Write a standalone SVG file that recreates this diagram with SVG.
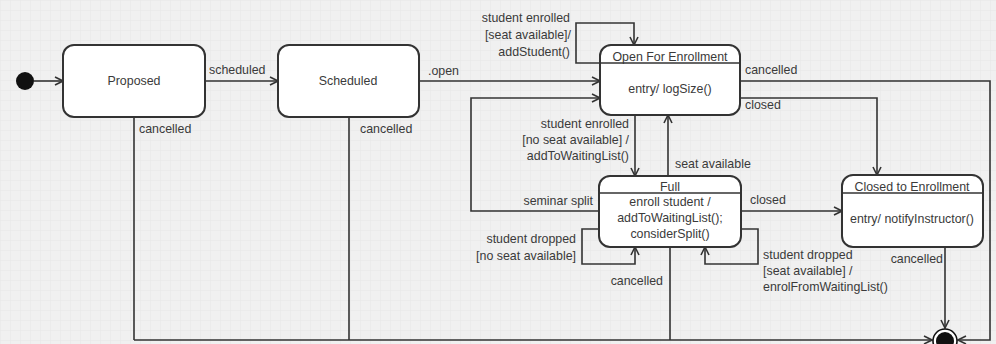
<svg xmlns="http://www.w3.org/2000/svg" width="996" height="344" viewBox="0 0 996 344">
  <defs>
    <pattern id="grid" width="10" height="10" patternUnits="userSpaceOnUse">
      <rect width="10" height="10" fill="#f0f0f0"/>
      <path d="M10,0 L0,0 L0,10" fill="none" stroke="#e7e7e7" stroke-width="1"/>
    </pattern>
    <marker id="arrow" viewBox="0 0 10 10" markerWidth="10" markerHeight="10" refX="9" refY="5" orient="auto" markerUnits="userSpaceOnUse">
      <path d="M1,1 L9,5 L1,9" fill="none" stroke="#333" stroke-width="1.6"/>
    </marker>
  </defs>
  <style>
    .state { fill: #ffffff; stroke: #333; stroke-width: 2; }
    .sep { stroke: #333; stroke-width: 1.6; }
    .edge { fill: none; stroke: #333; stroke-width: 1.6; }
    .arr { marker-end: url(#arrow); }
    text { font-family: "Liberation Sans", Arial, sans-serif; font-size: 12.4px; fill: #3a3a3a; }
    .c { text-anchor: middle; }
    .e { text-anchor: end; }
  </style>

  <rect width="996" height="344" fill="url(#grid)"/>

  <!-- transitions -->
  <g id="connectors">
    <path class="edge arr" d="M34,81 L63,81"/>
    <path class="edge arr" d="M205,81 L278,81"/>
    <path class="edge arr" d="M419,81 L600,81"/>
    <!-- self loop on Open For Enrollment -->
    <path class="edge arr" d="M600,63 L576,63 L576,23 L634,23 L634,45"/>
    <!-- Open -> Full / Full -> Open -->
    <path class="edge arr" d="M635,115 L635,176"/>
    <path class="edge arr" d="M668,176 L668,115"/>
    <!-- seminar split -->
    <path class="edge arr" d="M599,211 L471,211 L471,98 L600,98"/>
    <!-- Open closed -->
    <path class="edge arr" d="M740,98 L877,98 L877,175"/>
    <!-- Open cancelled -->
    <path class="edge arr" d="M740,81 L990,81 L990,340 L958,340"/>
    <!-- Full closed -->
    <path class="edge arr" d="M741,211 L842,211"/>
    <!-- Full self loops -->
    <path class="edge arr" d="M599,229 L582,229 L582,264 L635,264 L635,247"/>
    <path class="edge arr" d="M741,229 L758,229 L758,264 L705,264 L705,247"/>
    <!-- cancelled to final -->
    <path class="edge" d="M134,117 L134,340"/>
    <path class="edge" d="M349,117 L349,340"/>
    <path class="edge" d="M670,247 L670,340"/>
    <path class="edge arr" d="M134,340 L932,340"/>
    <path class="edge arr" d="M945,247 L945,328"/>
  </g>

  <g id="labels">
    <text x="209" y="74">scheduled</text>
    <text x="428" y="75">.open</text>
    <text x="139" y="133">cancelled</text>
    <text x="360" y="133">cancelled</text>
    <text class="e" x="570" y="22">student enrolled</text>
    <text class="e" x="571" y="39">[seat available]/</text>
    <text class="e" x="570" y="56">addStudent()</text>
    <text x="745" y="74">cancelled</text>
    <text x="745" y="109">closed</text>
    <text class="e" x="629" y="128">student enrolled</text>
    <text class="e" x="629" y="144">[no seat available] /</text>
    <text class="e" x="629" y="160">addToWaitingList()</text>
    <text x="675" y="168">seat available</text>
    <text class="e" x="593" y="205">seminar split</text>
    <text x="750" y="204">closed</text>
    <text class="e" x="576" y="243">student dropped</text>
    <text class="e" x="576" y="260">[no seat available]</text>
    <text class="e" x="663" y="285">cancelled</text>
    <text x="763" y="259">student dropped</text>
    <text x="763" y="275">[seat available] /</text>
    <text x="763" y="291">enrolFromWaitingList()</text>
    <text class="e" x="943" y="263">cancelled</text>
  </g>

  <g id="initial">
    <circle cx="25" cy="81" r="9" fill="#111"/>
  </g>

  <g id="proposed">
    <rect class="state" x="63" y="45" width="142" height="72" rx="11"/>
    <text class="c" x="134" y="85">Proposed</text>
  </g>

  <g id="scheduled">
    <rect class="state" x="278" y="45" width="141" height="72" rx="11"/>
    <text class="c" x="348" y="85">Scheduled</text>
  </g>

  <g id="open-for-enrollment">
    <rect class="state" x="600" y="45" width="140" height="70" rx="11"/>
    <line class="sep" x1="600" y1="63" x2="740" y2="63"/>
    <text class="c" x="670" y="61">Open For Enrollment</text>
    <text class="c" x="670" y="93">entry/ logSize()</text>
  </g>

  <g id="full">
    <rect class="state" x="599" y="176" width="142" height="71" rx="11"/>
    <line class="sep" x1="599" y1="193" x2="741" y2="193"/>
    <text class="c" x="670" y="191">Full</text>
    <text class="c" x="670" y="206">enroll student /</text>
    <text class="c" x="670" y="222">addToWaitingList();</text>
    <text class="c" x="670" y="238">considerSplit()</text>
  </g>

  <g id="closed-to-enrollment">
    <rect class="state" x="842" y="175" width="141" height="72" rx="11"/>
    <line class="sep" x1="842" y1="193" x2="983" y2="193"/>
    <text class="c" x="912" y="191">Closed to Enrollment</text>
    <text class="c" x="912" y="223">entry/ notifyInstructor()</text>
  </g>

  <g id="final">
    <circle cx="945" cy="341" r="12" fill="#fff" stroke="#111" stroke-width="1.6"/>
    <circle cx="945" cy="341" r="9" fill="#111"/>
  </g>
</svg>
